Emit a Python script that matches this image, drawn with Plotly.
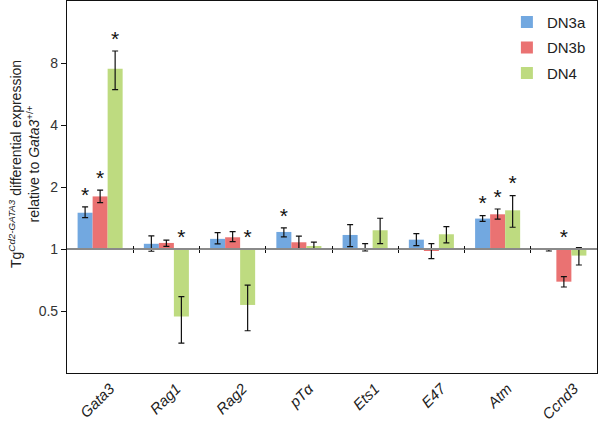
import plotly.graph_objects as go

categories = ["Gata3", "Rag1", "Rag2", "pTα", "Ets1", "E47", "Atm", "Ccnd3"]
series_names = ["DN3a", "DN3b", "DN4"]

dn3a = [1.50, 1.06, 1.12, 1.21, 1.17, 1.11, 1.405, 0.989]
dn3a_hi = [1.60, 1.157, 1.20, 1.265, 1.314, 1.188, 1.453, 1.004]
dn3a_lo = [1.42, 0.975, 1.058, 1.144, 1.027, 1.039, 1.363, 0.978]
dn3a_sig = [1, 0, 0, 1, 0, 0, 1, 0]

dn3b = [1.80, 1.07, 1.14, 1.078, 1.01, 0.978, 1.474, 0.694]
dn3b_hi = [1.93, 1.105, 1.214, 1.156, 1.062, 1.062, 1.564, 0.735]
dn3b_lo = [1.68, 1.03, 1.086, 1.004, 0.978, 0.898, 1.398, 0.654]
dn3b_sig = [1, 0, 0, 0, 0, 0, 1, 1]

dn4 = [7.51, 0.47, 0.535, 1.034, 1.233, 1.179, 1.541, 0.929]
dn4_hi = [9.15, 0.587, 0.667, 1.081, 1.41, 1.285, 1.817, 1.016]
dn4_lo = [5.94, 0.349, 0.401, 0.997, 1.062, 1.07, 1.275, 0.836]
dn4_sig = [1, 1, 1, 0, 0, 0, 1, 0]

y_tickvals = [0.5, 1, 2, 4, 8]
y_ticktext = ["0.5", "1", "2", "4", "8"]

y_title = ("Tg<sup><i>Cd2-GATA3</i></sup> differential expression<br>"
           "relative to <i>Gata3</i><sup>+/+</sup>")

colors = ["#72a8e0", "#ea7272", "#bedb80"]
FONT = "Liberation Sans, Arial, sans-serif"
BASE = 1.0
GAP = 0.32
n = len(categories)
sep_positions = [i + 0.5 for i in range(n - 1)]

series = [
    (dn3a, dn3a_hi, dn3a_lo, dn3a_sig),
    (dn3b, dn3b_hi, dn3b_lo, dn3b_sig),
    (dn4, dn4_hi, dn4_lo, dn4_sig),
]

fig = go.Figure()
for k, (vals, hi, lo, sig) in enumerate(series):
    fig.add_trace(go.Bar(
        x=categories,
        y=[v - BASE for v in vals],
        base=BASE,
        name=series_names[k],
        legendgroup=series_names[k],
        marker=dict(color=colors[k], line=dict(width=0)),
        offsetgroup=str(k),
        error_y=dict(type="data", symmetric=False,
                     array=[h - v for h, v in zip(hi, vals)],
                     arrayminus=[v - l for v, l in zip(vals, lo)],
                     color="#111111", thickness=1.2, width=3),
        hoverinfo="skip",
    ))

for k, (vals, hi, lo, sig) in enumerate(series):
    xs = [c for c, s in zip(categories, sig) if s]
    ys = [max(h, BASE) for h, s in zip(hi, sig) if s]
    fig.add_trace(go.Scatter(
        x=xs, y=ys, mode="text", text=["*"] * len(xs),
        textposition="top center", offsetgroup=str(k),
        textfont=dict(family=FONT, size=21, color="#111111"),
        showlegend=False, hoverinfo="skip", cliponaxis=False,
    ))

# helper traces so the baseline axes (at y = 1) get drawn
for ax in ("x2", "x3"):
    fig.add_trace(go.Scatter(x=[None], y=[None], xaxis=ax, mode="none",
                             showlegend=False, hoverinfo="skip"))

base_pos = (0 - (-2)) / 6.0  # log2(1) within log2 range [-2, 4]

fig.add_annotation(
    text=y_title, textangle=-90, xref="paper", yref="paper",
    x=-0.081, y=0.562, xanchor="center", yanchor="middle",
    showarrow=False, align="center",
    font=dict(family=FONT, size=14, color="#222222"),
)

fig.update_layout(
    width=600, height=431,
    margin=dict(l=67, r=3, t=1, b=58),
    paper_bgcolor="white", plot_bgcolor="white",
    barmode="group", bargap=GAP, bargroupgap=0,
    scattermode="group", scattergap=GAP,
    font=dict(family=FONT, color="#222222"),
    showlegend=True,
    legend=dict(x=0.83, y=0.987, xanchor="left", yanchor="top",
                font=dict(family=FONT, size=15, color="#222222"),
                bgcolor="rgba(0,0,0,0)", tracegroupgap=3),
    xaxis=dict(
        type="category", categoryorder="array", categoryarray=categories,
        tickmode="array", tickvals=categories,
        ticktext=["<i>" + c + "</i>" for c in categories],
        tickangle=-45, tickfont=dict(family=FONT, size=15, color="#222222"),
        ticklabelshift=10,
        showline=True, linecolor="#111111", linewidth=1.2, mirror=True,
        ticks="", showgrid=False, zeroline=False, range=[-0.5, n - 0.5],
        automargin=False,
    ),
    xaxis2=dict(
        overlaying="x", anchor="free", position=base_pos, range=[-0.5, n - 0.5],
        showline=True, linecolor="#8a8a8a", linewidth=1.5,
        tickmode="array", tickvals=sep_positions,
        ticks="outside", ticklen=3, tickwidth=1.2, tickcolor="#111111",
        showticklabels=False, showgrid=False, zeroline=False, automargin=False,
    ),
    xaxis3=dict(
        overlaying="x", anchor="free", position=base_pos, range=[-0.5, n - 0.5],
        side="top", showline=False,
        tickmode="array", tickvals=sep_positions,
        ticks="outside", ticklen=3, tickwidth=1.2, tickcolor="#111111",
        showticklabels=False, showgrid=False, zeroline=False, automargin=False,
    ),
    yaxis=dict(
        type="log", range=[-0.60206, 1.20412],
        tickmode="array", tickvals=y_tickvals, ticktext=y_ticktext,
        ticks="outside", ticklen=5, tickwidth=1.2, tickcolor="#111111",
        tickfont=dict(family=FONT, size=14, color="#333333"),
        showline=True, linecolor="#111111", linewidth=1.2, mirror=True,
        showgrid=False, zeroline=False, automargin=False,
    ),
)

fig.write_html("out.html", config={"displayModeBar": False},
               post_script="document.body.style.margin='0';document.body.style.padding='0';")
